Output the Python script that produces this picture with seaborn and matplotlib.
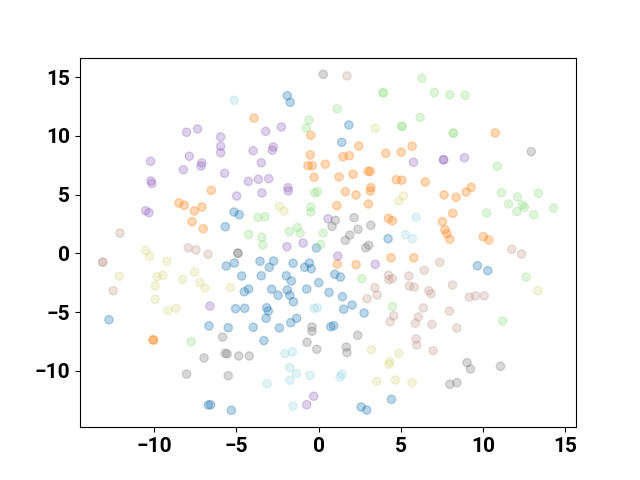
import pandas as pd
import matplotlib
matplotlib.use("Agg")
import matplotlib.pyplot as plt
import seaborn as sns

# 2-D embedding, one list of x and y per cluster
blue_x = [-1.90, -1.72, 1.84, 1.41, -5.14, -4.82, -5.67, -0.13, -5.61, -5.12, -3.56, -2.73, -2.99,
          -1.55, -0.84, -0.56, -0.44, -4.67, -3.48, -1.96, -1.65, 0.01, -4.51, -4.25, -2.85, -1.90,
          -1.75, -0.72, 0.64, -2.46, -1.53, 0.99, 1.33, 4.23, 1.45, 2.04, 1.53, 2.77, 0.74, 0.92,
          9.66, 10.29, -12.74, -5.04, -4.49, -3.15, -3.05, -3.19, -1.33, -1.69, -6.66, -5.49, -3.97,
          -2.38, -3.32, -6.70, -6.56, -5.30, 4.43, 2.59, 2.93]
blue_y = [13.41, 12.85, 10.92, 9.45, 3.52, 3.29, 2.27, 0.46, -1.07, -0.82, -0.67, -0.65, -1.18,
          -0.84, -1.18, -0.82, -1.30, -1.92, -1.90, -1.90, -2.35, -2.49, -3.26, -3.03, -3.05, -3.11,
          -3.56, -3.03, -3.32, -3.56, -4.11, -1.78, -2.01, 1.25, -3.68, -4.39, -4.75, -5.07, -6.23, -6.15,
          -1.05, -1.47, -5.64, -4.70, -4.67, -4.62, -4.90, -5.52, -5.52, -5.89, -6.17, -6.32, -6.28,
          -6.34, -7.42, -12.89, -12.87, -13.34, -12.41, -13.06, -13.32]

orange_x = [-3.92, -0.47, -0.50, -0.64, -0.38, 0.41, -0.27, 1.25, 2.10, 3.01, 3.15, 4.73, 5.06, 6.48,
            2.45, 1.49, 1.87, 4.09, 5.02, 5.69, 10.74, -8.49, -8.16, -7.55, -7.69, -7.01, -6.52, -7.09,
            3.18, 3.15, 1.63, 2.28, 3.03, 1.11, 7.63, 4.25, 4.49, 7.53, 7.68, 7.80, 7.98, 1.14, 2.28,
            4.41, 5.79, 9.28, 8.97, 8.36, 8.16, 10.01, 10.35, -10.07, -10.02]
orange_y = [11.51, 10.04, 8.37, 7.46, 7.46, 7.58, 6.47, 6.50, 6.73, 6.98, 6.98, 6.27, 6.22, 6.07,
            9.13, 8.22, 8.31, 8.51, 8.62, 9.11, 10.24, 4.29, 4.09, 3.61, 2.70, 2.10, 5.37, 3.95,
            5.59, 5.31, 5.25, 4.97, 4.20, 4.06, 4.97, 2.98, 2.78, 2.70, 2.02, 1.68, 1.20, -0.90, -0.96,
            -0.37, -0.37, 5.62, 5.22, 4.77, 3.41, 1.42, 1.14, -7.34, -7.38]

green_x = [-0.58, -0.74, 6.28, 3.92, 3.95, 7.04, 7.98, 8.91, 1.13, 6.17, 5.06, 5.08, 8.18, 8.20, 10.86,
           -0.23, -0.07, -0.47, -0.47, -3.68, -3.25, -4.25, -3.45, -3.39, -1.29, -1.78, -1.11, 0.29,
           0.13, 2.63, 4.49, 11.12, 12.09, 13.37, 11.55, 12.38, 12.52, 12.06, 13.07, 14.28, 10.21,
           12.62, 11.20, -7.74]
green_y = [11.34, 10.66, 14.89, 13.67, 13.65, 13.67, 13.49, 13.44, 12.30, 11.57, 10.81, 10.79, 10.24,
           10.22, 7.41, 5.14, 5.25, 3.95, 3.52, 3.04, 3.12, 1.62, 1.37, 0.71, 2.19, 1.85, 1.73, 1.73,
           0.77, -2.15, -4.52, 5.16, 4.80, 5.11, 4.20, 4.12, 3.92, 3.55, 3.29, 3.84, 3.44,
           -2.01, -5.75, -7.51]

purple_x = [-8.02, -7.35, -10.21, -7.86, -8.22, -7.09, -7.15, -10.19, -10.13, -10.51, -10.31, -3.21,
            -2.26, -5.95, -5.95, -5.95, -3.98, -2.75, -2.81, -3.48, -5.71, -3.66, -3.03, -4.27, -1.86,
            -1.84, -4.98, -3.44, 0.58, -0.94, -1.92, 5.77, 7.59, 7.61, 8.87, 1.17, 3.45, -6.60,
            -0.29, -0.72]
purple_y = [10.30, 10.58, 7.83, 8.26, 7.12, 7.69, 7.43, 6.16, 5.94, 3.63, 3.46, 10.38,
            10.75, 9.90, 9.11, 8.56, 8.73, 9.05, 8.77, 7.71, 6.81, 6.30, 6.35, 6.13, 5.59,
            5.31, 4.88, 5.14, 2.95, 0.88, 0.57, 7.75, 7.97, 7.95, 8.14, -0.22, -0.93, -4.47,
            -12.15, -12.87]

brown_x = [1.73, -12.07, -7.92, -7.45, -13.13, -13.10, -12.48, -6.72, 7.37, 6.42, 4.25, 4.27, 4.49,
           5.49, 8.14, 3.42, 3.56, 5.52, 5.81, 6.70, 6.84, 2.95, 11.75, 12.34, 9.17, 9.54, 10.07,
           4.57, 4.35, 6.37, 6.07, 5.89, 6.89, 7.96, 5.93, 5.97, 6.96, 8.41]
brown_y = [15.09, 1.73, 0.48, 0.29, -0.76, -0.74, -3.17, -0.08, -0.76, -1.44, -1.86, -2.24, -2.15,
           -1.92, -2.69, -2.92, -3.54, -2.77, -2.86, -3.17, -3.43, -3.85, 0.35, -0.05, -3.71, -3.62, -3.60,
           -5.30, -5.81, -4.64, -5.41, -5.94, -6.03, -4.90, -7.28, -7.79, -8.27, -6.34]

gray_x = [0.29, 12.93, -4.91, -4.89, 1.02, 0.82, 2.16, 2.40, 3.18, 1.90, 1.63, 3.05, 2.87, -8.02,
          -6.96, -5.83, -0.40, -0.40, -0.70, -0.11, -5.67, -5.55, -4.85, -4.21, -5.49, 2.38, 1.69,
          1.73, 7.98, 8.41, 9.03, 9.23, 11.06]
gray_y = [15.23, 8.65, 0.01, 0.03, 2.81, 2.30, 3.04, 2.05, 2.39, 1.56, 1.11, 0.69, 0.48, -10.26,
          -8.89, -7.11, -6.26, -6.62, -7.56, -8.15, -8.50, -8.55, -8.72, -8.72, -10.40, -6.96, -7.96,
          -8.44, -11.13, -10.99, -9.29, -9.83, -9.60]

olive_x = [3.45, 5.16, 4.88, -2.38, -2.10, -10.51, -10.27, -9.22, -12.12, -9.81, -9.46, -7.55, -8.26,
           -7.21, -9.93, -6.90, -9.93, -9.15, -8.67, -5.36, 13.33, 3.21, 4.88, 4.33, 4.27, 3.54, 4.67, 5.69]
olive_y = [10.64, 4.88, 4.46, 4.01, 3.61, 0.26, -0.25, -0.67, -1.95, -1.98, -1.84, -1.58, -2.20,
           -2.49, -2.77, -2.94, -3.90, -4.87, -4.67, -2.92, -3.17, -8.19, -8.50, -9.21, -9.43, -10.88,
           -10.77, -10.99]

cyan_x = [-5.12, 5.93, 5.28, 5.71, -0.27, -0.07, -2.04, -1.59, -1.75, -1.35, -1.75, -0.52, -3.13,
          -1.55, 1.43, 1.31]
cyan_y = [13.02, 3.07, 1.59, 1.25, -4.67, -4.62, -8.53, -8.38, -9.72, -10.23, -10.79, -10.37, -11.08,
          -12.98, -10.28, -10.51]

clusters = {
    "blue": (blue_x, blue_y),
    "orange": (orange_x, orange_y),
    "green": (green_x, green_y),
    "purple": (purple_x, purple_y),
    "brown": (brown_x, brown_y),
    "gray": (gray_x, gray_y),
    "olive": (olive_x, olive_y),
    "cyan": (cyan_x, cyan_y),
}
# tab20 shades, some of the clusters use the light variant
colors = {
    "blue": "#1f77b4",
    "orange": "#ff7f0e",
    "green": "#98df8a",
    "purple": "#9467bd",
    "brown": "#c49c94",
    "gray": "#7f7f7f",
    "olive": "#dbdb8d",
    "cyan": "#9edae5",
}

frames = []
for name, (xs, ys) in clusters.items():
    frames.append(pd.DataFrame({"x": xs, "y": ys, "label": name}))
df = pd.concat(frames, ignore_index=True)

plt.rcParams["font.family"] = ["Roboto", "DejaVu Sans"]
plt.rcParams["font.weight"] = "bold"

fig, ax = plt.subplots(figsize=(6.4, 4.8), dpi=100)
sns.scatterplot(data=df, x="x", y="y", hue="label", palette=colors, alpha=0.3,
                s=36, edgecolor="face", linewidth=1, legend=False, ax=ax)
ax.set_xlim(-14.5, 15.65)
ax.set_ylim(-14.78, 16.65)
ax.set_xticks([-10, -5, 0, 5, 10, 15])
ax.set_yticks([-10, -5, 0, 5, 10, 15])
ax.set_xlabel("")
ax.set_ylabel("")
ax.tick_params(labelsize=15)
for lab in ax.get_xticklabels() + ax.get_yticklabels():
    lab.set_fontweight("bold")

fig.savefig("out.png", dpi=100)
